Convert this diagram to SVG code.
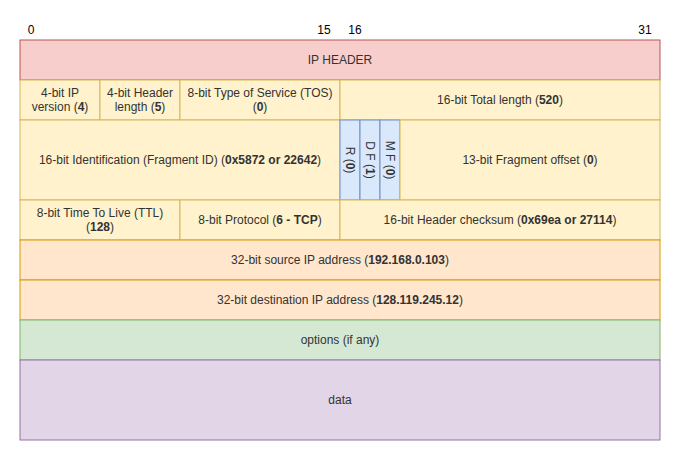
<svg xmlns="http://www.w3.org/2000/svg" width="681" height="461" viewBox="0 0 681 461">
<style>
text{font-family:"Liberation Sans",Arial,sans-serif;font-size:12px;fill:#333;text-anchor:middle;dominant-baseline:central}
.n{fill:#000}
.b{font-weight:bold}
.red{fill:#f8cecc;stroke:#b85450}
.yel{fill:#fff2cc;stroke:#d6b656}
.blu{fill:#dae8fc;stroke:#6c8ebf}
.org{fill:#ffe6cc;stroke:#d79b00}
.grn{fill:#d5e8d4;stroke:#82b366}
.pur{fill:#e1d5e7;stroke:#9673a6}
</style>
<rect width="681" height="461" fill="#fff"/>
<g id="bits">
<text class="n" x="31" y="30">0</text>
<text class="n" x="324" y="30">15</text>
<text class="n" x="355" y="30">16</text>
<text class="n" x="645" y="30">31</text>
</g>
<g id="ipheader"><rect class="red" x="20" y="40" width="640" height="40"/><text x="340" y="60">IP HEADER</text></g>
<g id="version"><rect class="yel" x="20" y="80" width="80" height="40"/><text x="60" y="93">4-bit IP</text><text x="60" y="107">version (<tspan class="b">4</tspan>)</text></g>
<g id="hlen"><rect class="yel" x="100" y="80" width="80" height="40"/><text x="140" y="93">4-bit Header</text><text x="140" y="107">length (<tspan class="b">5</tspan>)</text></g>
<g id="tos"><rect class="yel" x="180" y="80" width="160" height="40"/><text x="260" y="93">8-bit Type of Service (TOS)</text><text x="260" y="107">(<tspan class="b">0</tspan>)</text></g>
<g id="totlen"><rect class="yel" x="340" y="80" width="320" height="40"/><text x="500" y="100">16-bit Total length (<tspan class="b">520</tspan>)</text></g>
<g id="ident"><rect class="yel" x="20" y="120" width="320" height="80"/><text x="180" y="160">16-bit Identification (Fragment ID) (<tspan class="b">0x5872 or 22642</tspan>)</text></g>
<g id="rflag"><rect class="blu" x="340" y="120" width="20" height="80"/><text transform="translate(350 160) rotate(90)" x="0" y="0">R (<tspan class="b">0</tspan>)</text></g>
<g id="dfflag"><rect class="blu" x="360" y="120" width="20" height="80"/><text transform="translate(370 160) rotate(90)" x="0" y="0">D F (<tspan class="b">1</tspan>)</text></g>
<g id="mfflag"><rect class="blu" x="380" y="120" width="20" height="80"/><text transform="translate(390 160) rotate(90)" x="0" y="0">M F (<tspan class="b">0</tspan>)</text></g>
<g id="fragoff"><rect class="yel" x="400" y="120" width="260" height="80"/><text x="530" y="160">13-bit Fragment offset (<tspan class="b">0</tspan>)</text></g>
<g id="ttl"><rect class="yel" x="20" y="200" width="160" height="40"/><text x="100" y="213">8-bit Time To Live (TTL)</text><text x="100" y="227">(<tspan class="b">128</tspan>)</text></g>
<g id="proto"><rect class="yel" x="180" y="200" width="160" height="40"/><text x="260" y="220">8-bit Protocol (<tspan class="b">6 - TCP</tspan>)</text></g>
<g id="checksum"><rect class="yel" x="340" y="200" width="320" height="40"/><text x="500" y="220">16-bit Header checksum (<tspan class="b">0x69ea or 27114</tspan>)</text></g>
<g id="src"><rect class="org" x="20" y="240" width="640" height="40"/><text x="340" y="260">32-bit source IP address (<tspan class="b">192.168.0.103</tspan>)</text></g>
<g id="dst"><rect class="org" x="20" y="280" width="640" height="40"/><text x="340" y="300">32-bit destination IP address (<tspan class="b">128.119.245.12</tspan>)</text></g>
<g id="options"><rect class="grn" x="20" y="320" width="640" height="40"/><text x="340" y="340">options (if any)</text></g>
<g id="data"><rect class="pur" x="20" y="360" width="640" height="80"/><text x="340" y="400">data</text></g>
<g id="connectors"/>
</svg>
